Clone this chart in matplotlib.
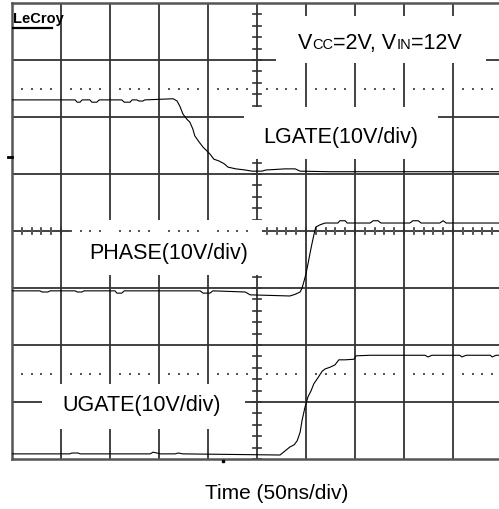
import matplotlib
matplotlib.use("Agg")
import matplotlib.pyplot as plt
import numpy as np
from matplotlib.patches import Rectangle
from matplotlib.offsetbox import TextArea, HPacker, AnnotationBbox

# traces, x in time divisions (50 ns/div), y in screen divisions (10 V/div)
lgate_t = [0, 1.29, 1.33, 1.39, 1.43, 1.59, 1.63, 1.73, 1.78, 2.24, 2.29, 2.41, 2.45,
           2.55, 2.59, 2.67, 2.71, 3.29, 3.37, 3.43, 3.49, 3.57, 3.63, 3.69, 3.73,
           3.82, 3.90, 3.96, 4.04, 4.12, 4.22, 4.33, 4.41, 4.57, 4.76, 4.90, 5.10,
           5.18, 5.57, 5.78, 5.88, 6.49, 7.51, 10.0]
lgate_v = [6.30, 6.30, 6.26, 6.26, 6.30, 6.30, 6.26, 6.26, 6.30, 6.30, 6.26, 6.26, 6.30,
           6.30, 6.28, 6.28, 6.30, 6.32, 6.28, 6.18, 6.05, 5.96, 5.91, 5.79, 5.67,
           5.56, 5.47, 5.42, 5.35, 5.26, 5.23, 5.18, 5.12, 5.09, 5.07, 5.05, 5.05,
           5.07, 5.09, 5.09, 5.05, 5.04, 5.04, 5.04]

phase_t = [0, 0.57, 0.61, 0.73, 0.78, 1.29, 1.33, 1.43, 1.47, 2.10, 2.14, 2.24, 2.29,
           3.84, 3.90, 4.04, 4.10, 4.76, 4.86, 5.67, 5.78, 5.88, 5.92, 5.96, 6.00,
           6.04, 6.08, 6.12, 6.16, 6.20, 6.29, 6.39, 6.65, 6.69, 6.80, 6.84, 7.31,
           7.37, 7.47, 7.53, 8.12, 8.18, 8.29, 8.35, 8.73, 8.80, 8.86, 10.0]
phase_v = [2.95, 2.95, 2.93, 2.93, 2.95, 2.95, 2.93, 2.93, 2.95, 2.95, 2.91, 2.91, 2.95,
           2.95, 2.91, 2.91, 2.95, 2.93, 2.88, 2.86, 2.89, 2.93, 3.00, 3.12, 3.25,
           3.42, 3.60, 3.77, 3.93, 4.07, 4.11, 4.14, 4.14, 4.18, 4.18, 4.14, 4.14,
           4.18, 4.18, 4.14, 4.14, 4.18, 4.18, 4.14, 4.14, 4.18, 4.14, 4.14]

ugate_t = [0, 1.18, 1.22, 1.35, 1.39, 2.82, 2.88, 2.96, 3.02, 3.33, 3.39, 3.49, 5.47,
           5.57, 5.67, 5.76, 5.82, 5.88, 5.92, 5.98, 6.04, 6.10, 6.16, 6.24, 6.33,
           6.39, 6.49, 6.59, 6.67, 6.80, 6.98, 7.02, 7.31, 8.43, 8.49, 8.57, 9.14,
           9.18, 9.27, 9.76, 9.80, 9.88, 10.0]
ugate_v = [0.09, 0.09, 0.105, 0.105, 0.09, 0.09, 0.12, 0.105, 0.09, 0.09, 0.105, 0.09, 0.07,
           0.14, 0.21, 0.25, 0.32, 0.47, 0.68, 0.91, 1.09, 1.19, 1.32, 1.42, 1.54,
           1.58, 1.61, 1.65, 1.74, 1.74, 1.75, 1.81, 1.82, 1.82, 1.79, 1.82, 1.82,
           1.79, 1.82, 1.82, 1.79, 1.82, 1.82]

grid_col = "#333333"

fig = plt.figure(figsize=(4.99, 5.10), dpi=100)
ax = fig.add_axes([12 / 499, 50 / 510, 490 / 499, 456 / 510])
ax.set_xlim(0, 10)
ax.set_ylim(0, 8)
ax.set_xticks([])
ax.set_yticks([])
for s in ["left", "top", "bottom"]:
    ax.spines[s].set_color("#555555")
    ax.spines[s].set_linewidth(1.8)
ax.spines["right"].set_visible(False)

# graticule
for gx in range(1, 10):
    ax.axvline(gx, color=grid_col, lw=1.3, zorder=1)
for gy in range(1, 8):
    ax.axhline(gy, color=grid_col, lw=1.3, zorder=1)
for k in range(41):
    ax.plot([4.92, 5.08], [k / 5, k / 5], color=grid_col, lw=1.2, zorder=1)
for k in range(51):
    ax.plot([k / 5, k / 5], [3.94, 4.06], color=grid_col, lw=1.2, zorder=1)

# white label boxes that hide the graticule
boxes = [(5.39, 6.95, 4.28, 0.82), (4.73, 5.26, 3.96, 0.92),
         (1.18, 3.23, 3.92, 0.96), (0.61, 0.53, 4.15, 0.79)]
for bx, by, bw, bh in boxes:
    ax.add_patch(Rectangle((bx, by), bw, bh, facecolor="white", edgecolor="none", zorder=2))

# dotted level lines
dots_x = [k / 5 for k in range(50) if k % 5 != 0]
for ly in [6.5, 4.0, 1.5]:
    ax.scatter(dots_x, [ly] * len(dots_x), s=1.0, color="#555555", marker="s",
               linewidths=0, zorder=3)

ax.plot(lgate_t, lgate_v, color="black", lw=0.8, zorder=4)
ax.plot(phase_t, phase_v, color="black", lw=0.8, zorder=4)
ax.plot(ugate_t, ugate_v, color="black", lw=0.8, zorder=4)

# ground marker and trigger marker
ax.plot([-0.08, 0], [5.3, 5.3], color="black", lw=2, clip_on=False, zorder=5)
ax.plot([4.3], [-0.03], marker="s", ms=2, color="black", clip_on=False, zorder=5)

fs = 15.5
sub = 10.5
parts = [TextArea("V", textprops=dict(size=fs, family="Liberation Sans")),
         TextArea("CC", textprops=dict(size=sub, family="Liberation Sans")),
         TextArea("=2V, V", textprops=dict(size=fs, family="Liberation Sans")),
         TextArea("IN", textprops=dict(size=sub, family="Liberation Sans")),
         TextArea("=12V", textprops=dict(size=fs, family="Liberation Sans"))]
pack = HPacker(children=parts, align="baseline", pad=0, sep=0)
ab = AnnotationBbox(pack, (7.51, 7.30), frameon=False, box_alignment=(0.5, 0.5), zorder=6)
ax.add_artist(ab)

ax.text(6.71, 5.65, "LGATE(10V/div)", size=fs, family="Liberation Sans",
        ha="center", va="center", zorder=6)
ax.text(3.20, 3.63, "PHASE(10V/div)", size=fs, family="Liberation Sans",
        ha="center", va="center", zorder=6)
ax.text(2.65, 0.96, "UGATE(10V/div)", size=fs, family="Liberation Sans",
        ha="center", va="center", zorder=6)

ax.text(0.02, 7.66, "LeCroy", size=10.5, weight="bold",
        family="Liberation Sans", ha="left", va="baseline", zorder=6)
ax.plot([0.03, 0.82], [7.56, 7.56], color="black", lw=1.6, zorder=6)

fig.text(277 / 499, 1 - 494 / 510, "Time (50ns/div)", size=15, family="Liberation Sans",
         ha="center", va="center")

fig.savefig("out.png", dpi=100)
